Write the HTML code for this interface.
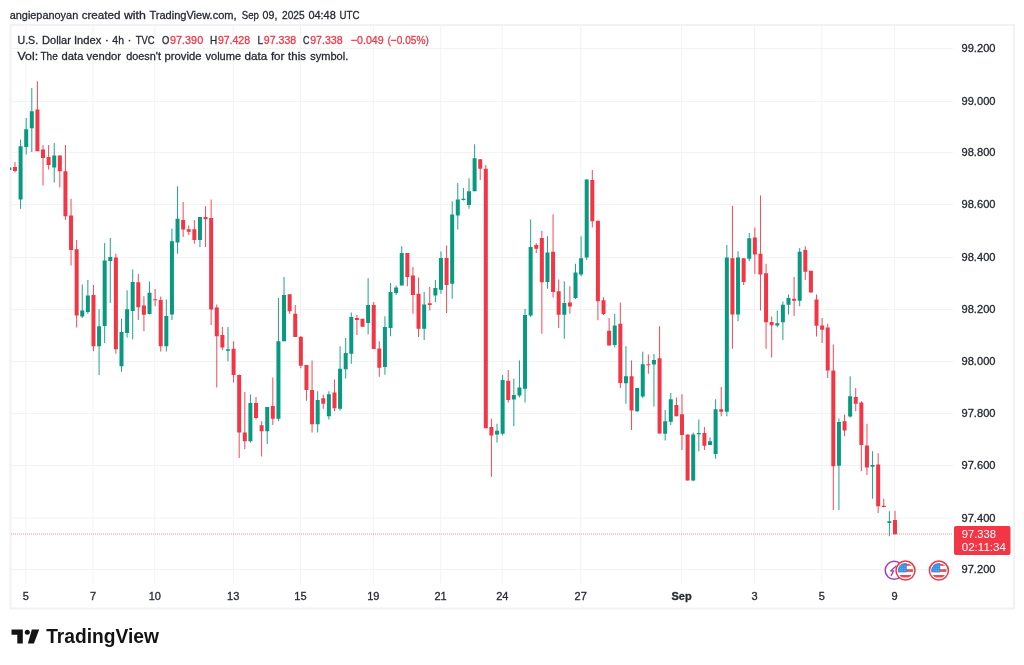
<!DOCTYPE html>
<html><head><meta charset="utf-8">
<style>
html,body{margin:0;padding:0;background:#fff;}
body{width:1024px;height:665px;position:relative;overflow:hidden;font-family:"Liberation Sans",sans-serif;}
svg{position:absolute;left:0;top:0;filter:blur(0.35px);}
text{stroke-width:0.3px;}
.s{stroke:#262a33;}
</style></head><body>
<svg width="1024" height="665" viewBox="0 0 1024 665" font-family="Liberation Sans, sans-serif">
<rect x="0" y="0" width="1024" height="665" fill="#ffffff"/>
<rect x="10.5" y="25" width="1003.5" height="583.5" fill="none" stroke="#F2F2F4" stroke-width="2"/>
<clipPath id="pane"><rect x="10" y="25" width="943" height="558"/></clipPath><g clip-path="url(#pane)"><line x1="11" y1="48.5" x2="953" y2="48.5" stroke="#F2F3F4" stroke-width="1"/>
<line x1="11" y1="101.5" x2="953" y2="101.5" stroke="#F2F3F4" stroke-width="1"/>
<line x1="11" y1="152.5" x2="953" y2="152.5" stroke="#F2F3F4" stroke-width="1"/>
<line x1="11" y1="204.5" x2="953" y2="204.5" stroke="#F2F3F4" stroke-width="1"/>
<line x1="11" y1="257.5" x2="953" y2="257.5" stroke="#F2F3F4" stroke-width="1"/>
<line x1="11" y1="309.5" x2="953" y2="309.5" stroke="#F2F3F4" stroke-width="1"/>
<line x1="11" y1="361.5" x2="953" y2="361.5" stroke="#F2F3F4" stroke-width="1"/>
<line x1="11" y1="413.5" x2="953" y2="413.5" stroke="#F2F3F4" stroke-width="1"/>
<line x1="11" y1="465.5" x2="953" y2="465.5" stroke="#F2F3F4" stroke-width="1"/>
<line x1="11" y1="518" x2="953" y2="518" stroke="#F2F3F4" stroke-width="1"/>
<line x1="11" y1="569.5" x2="953" y2="569.5" stroke="#F2F3F4" stroke-width="1"/>
<line x1="25.84" y1="25" x2="25.84" y2="583" stroke="#F2F3F4" stroke-width="1"/>
<line x1="93.1" y1="25" x2="93.1" y2="583" stroke="#F2F3F4" stroke-width="1"/>
<line x1="154.76" y1="25" x2="154.76" y2="583" stroke="#F2F3F4" stroke-width="1"/>
<line x1="233.23" y1="25" x2="233.23" y2="583" stroke="#F2F3F4" stroke-width="1"/>
<line x1="300.49" y1="25" x2="300.49" y2="583" stroke="#F2F3F4" stroke-width="1"/>
<line x1="373.35" y1="25" x2="373.35" y2="583" stroke="#F2F3F4" stroke-width="1"/>
<line x1="440.61" y1="25" x2="440.61" y2="583" stroke="#F2F3F4" stroke-width="1"/>
<line x1="502.26" y1="25" x2="502.26" y2="583" stroke="#F2F3F4" stroke-width="1"/>
<line x1="580.74" y1="25" x2="580.74" y2="583" stroke="#F2F3F4" stroke-width="1"/>
<line x1="681.63" y1="25" x2="681.63" y2="583" stroke="#F2F3F4" stroke-width="1"/>
<line x1="754.49" y1="25" x2="754.49" y2="583" stroke="#F2F3F4" stroke-width="1"/>
<line x1="821.75" y1="25" x2="821.75" y2="583" stroke="#F2F3F4" stroke-width="1"/>
<line x1="894.62" y1="25" x2="894.62" y2="583" stroke="#F2F3F4" stroke-width="1"/>
<rect x="8.88" y="167" width="1" height="3.50" fill="#089981" fill-opacity="0.9"/>
<rect x="7.38" y="167.5" width="4" height="2.50" fill="#089981"/>
<rect x="14.49" y="162" width="1" height="10.50" fill="#F23645" fill-opacity="0.9"/>
<rect x="12.99" y="167" width="4" height="4.00" fill="#F23645"/>
<rect x="20.09" y="139.5" width="1" height="69.25" fill="#089981" fill-opacity="0.9"/>
<rect x="18.59" y="146.25" width="4" height="53.25" fill="#089981"/>
<rect x="25.70" y="118" width="1" height="36.50" fill="#089981" fill-opacity="0.9"/>
<rect x="24.20" y="129.25" width="4" height="17.75" fill="#089981"/>
<rect x="31.30" y="88" width="1" height="64.00" fill="#089981" fill-opacity="0.9"/>
<rect x="29.80" y="111.25" width="4" height="17.00" fill="#089981"/>
<rect x="36.91" y="81.25" width="1" height="70.00" fill="#F23645" fill-opacity="0.9"/>
<rect x="35.41" y="109.5" width="4" height="41.75" fill="#F23645"/>
<rect x="42.52" y="145" width="1" height="40.50" fill="#F23645" fill-opacity="0.9"/>
<rect x="41.02" y="149.5" width="4" height="8.50" fill="#F23645"/>
<rect x="48.12" y="145" width="1" height="24.50" fill="#F23645" fill-opacity="0.9"/>
<rect x="46.62" y="157" width="4" height="8.00" fill="#F23645"/>
<rect x="53.73" y="143" width="1" height="39.50" fill="#089981" fill-opacity="0.9"/>
<rect x="52.23" y="155.5" width="4" height="12.00" fill="#089981"/>
<rect x="59.33" y="155.5" width="1" height="32.00" fill="#F23645" fill-opacity="0.9"/>
<rect x="57.83" y="155.5" width="4" height="15.75" fill="#F23645"/>
<rect x="64.94" y="145" width="1" height="75.00" fill="#F23645" fill-opacity="0.9"/>
<rect x="63.44" y="171.25" width="4" height="45.00" fill="#F23645"/>
<rect x="70.54" y="198.75" width="1" height="66.75" fill="#F23645" fill-opacity="0.9"/>
<rect x="69.04" y="215.5" width="4" height="34.50" fill="#F23645"/>
<rect x="76.15" y="240" width="1" height="87.50" fill="#F23645" fill-opacity="0.9"/>
<rect x="74.65" y="249.25" width="4" height="66.25" fill="#F23645"/>
<rect x="81.75" y="284.5" width="1" height="33.50" fill="#089981" fill-opacity="0.9"/>
<rect x="80.25" y="310.5" width="4" height="6.00" fill="#089981"/>
<rect x="87.36" y="280" width="1" height="33.75" fill="#089981" fill-opacity="0.9"/>
<rect x="85.86" y="295.5" width="4" height="16.50" fill="#089981"/>
<rect x="92.96" y="285" width="1" height="66.25" fill="#F23645" fill-opacity="0.9"/>
<rect x="91.46" y="295" width="4" height="51.25" fill="#F23645"/>
<rect x="98.57" y="309.25" width="1" height="65.75" fill="#089981" fill-opacity="0.9"/>
<rect x="97.07" y="326.25" width="4" height="20.00" fill="#089981"/>
<rect x="104.17" y="243" width="1" height="100.00" fill="#089981" fill-opacity="0.9"/>
<rect x="102.67" y="260.5" width="4" height="65.50" fill="#089981"/>
<rect x="109.78" y="238" width="1" height="65.00" fill="#089981" fill-opacity="0.9"/>
<rect x="108.28" y="257" width="4" height="4.00" fill="#089981"/>
<rect x="115.38" y="253.75" width="1" height="100.00" fill="#F23645" fill-opacity="0.9"/>
<rect x="113.88" y="257.5" width="4" height="91.75" fill="#F23645"/>
<rect x="120.99" y="318.75" width="1" height="53.00" fill="#089981" fill-opacity="0.9"/>
<rect x="119.49" y="332" width="4" height="34.25" fill="#089981"/>
<rect x="126.59" y="290.25" width="1" height="47.25" fill="#089981" fill-opacity="0.9"/>
<rect x="125.09" y="309.25" width="4" height="23.75" fill="#089981"/>
<rect x="132.19" y="269.5" width="1" height="70.00" fill="#089981" fill-opacity="0.9"/>
<rect x="130.69" y="282" width="4" height="29.00" fill="#089981"/>
<rect x="137.80" y="274" width="1" height="46.00" fill="#F23645" fill-opacity="0.9"/>
<rect x="136.30" y="282.25" width="4" height="25.00" fill="#F23645"/>
<rect x="143.41" y="296.25" width="1" height="35.00" fill="#F23645" fill-opacity="0.9"/>
<rect x="141.91" y="305.5" width="4" height="9.25" fill="#F23645"/>
<rect x="149.01" y="281.5" width="1" height="33.00" fill="#089981" fill-opacity="0.9"/>
<rect x="147.51" y="292.75" width="4" height="21.25" fill="#089981"/>
<rect x="154.62" y="289" width="1" height="17.25" fill="#F23645" fill-opacity="0.9"/>
<rect x="153.12" y="299.25" width="4" height="1.00" fill="#F23645"/>
<rect x="160.22" y="296.5" width="1" height="55.00" fill="#F23645" fill-opacity="0.9"/>
<rect x="158.72" y="300" width="4" height="46.25" fill="#F23645"/>
<rect x="165.82" y="299.5" width="1" height="52.00" fill="#089981" fill-opacity="0.9"/>
<rect x="164.32" y="316" width="4" height="30.25" fill="#089981"/>
<rect x="171.43" y="228.75" width="1" height="91.25" fill="#089981" fill-opacity="0.9"/>
<rect x="169.93" y="241.25" width="4" height="73.25" fill="#089981"/>
<rect x="177.03" y="186.25" width="1" height="67.50" fill="#089981" fill-opacity="0.9"/>
<rect x="175.53" y="218.75" width="4" height="23.75" fill="#089981"/>
<rect x="182.64" y="202" width="1" height="35.00" fill="#F23645" fill-opacity="0.9"/>
<rect x="181.14" y="220" width="4" height="9.50" fill="#F23645"/>
<rect x="188.25" y="225.5" width="1" height="9.50" fill="#F23645" fill-opacity="0.9"/>
<rect x="186.75" y="229.25" width="4" height="2.50" fill="#F23645"/>
<rect x="193.85" y="220" width="1" height="23.75" fill="#F23645" fill-opacity="0.9"/>
<rect x="192.35" y="229.25" width="4" height="10.75" fill="#F23645"/>
<rect x="199.46" y="217" width="1" height="30.00" fill="#089981" fill-opacity="0.9"/>
<rect x="197.96" y="217" width="4" height="23.00" fill="#089981"/>
<rect x="205.06" y="206.25" width="1" height="40.75" fill="#F23645" fill-opacity="0.9"/>
<rect x="203.56" y="217" width="4" height="2.25" fill="#F23645"/>
<rect x="210.66" y="199.5" width="1" height="125.50" fill="#F23645" fill-opacity="0.9"/>
<rect x="209.16" y="218" width="4" height="91.50" fill="#F23645"/>
<rect x="216.27" y="304.5" width="1" height="83.00" fill="#F23645" fill-opacity="0.9"/>
<rect x="214.77" y="307.5" width="4" height="28.75" fill="#F23645"/>
<rect x="221.88" y="327" width="1" height="23.00" fill="#F23645" fill-opacity="0.9"/>
<rect x="220.38" y="335" width="4" height="12.50" fill="#F23645"/>
<rect x="227.48" y="327" width="1" height="34.25" fill="#089981" fill-opacity="0.9"/>
<rect x="225.98" y="349.25" width="4" height="1.50" fill="#089981"/>
<rect x="233.09" y="341.25" width="1" height="41.25" fill="#F23645" fill-opacity="0.9"/>
<rect x="231.59" y="348.75" width="4" height="26.25" fill="#F23645"/>
<rect x="238.69" y="374.5" width="1" height="83.50" fill="#F23645" fill-opacity="0.9"/>
<rect x="237.19" y="375" width="4" height="57.50" fill="#F23645"/>
<rect x="244.30" y="392" width="1" height="57.25" fill="#F23645" fill-opacity="0.9"/>
<rect x="242.80" y="432.5" width="4" height="8.75" fill="#F23645"/>
<rect x="249.90" y="394.5" width="1" height="48.00" fill="#089981" fill-opacity="0.9"/>
<rect x="248.40" y="403" width="4" height="38.25" fill="#089981"/>
<rect x="255.50" y="397" width="1" height="22.50" fill="#F23645" fill-opacity="0.9"/>
<rect x="254.00" y="403" width="4" height="15.00" fill="#F23645"/>
<rect x="261.11" y="421.25" width="1" height="35.25" fill="#F23645" fill-opacity="0.9"/>
<rect x="259.61" y="425.25" width="4" height="6.00" fill="#F23645"/>
<rect x="266.72" y="407" width="1" height="37.00" fill="#089981" fill-opacity="0.9"/>
<rect x="265.22" y="407" width="4" height="24.25" fill="#089981"/>
<rect x="272.32" y="377.5" width="1" height="47.50" fill="#F23645" fill-opacity="0.9"/>
<rect x="270.82" y="406" width="4" height="12.75" fill="#F23645"/>
<rect x="277.93" y="298" width="1" height="123.00" fill="#089981" fill-opacity="0.9"/>
<rect x="276.43" y="341.25" width="4" height="77.50" fill="#089981"/>
<rect x="283.53" y="277" width="1" height="64.25" fill="#089981" fill-opacity="0.9"/>
<rect x="282.03" y="295" width="4" height="46.25" fill="#089981"/>
<rect x="289.13" y="294.25" width="1" height="19.50" fill="#F23645" fill-opacity="0.9"/>
<rect x="287.63" y="294.25" width="4" height="17.00" fill="#F23645"/>
<rect x="294.74" y="305" width="1" height="32.00" fill="#F23645" fill-opacity="0.9"/>
<rect x="293.24" y="313.75" width="4" height="23.25" fill="#F23645"/>
<rect x="300.35" y="336.25" width="1" height="32.00" fill="#F23645" fill-opacity="0.9"/>
<rect x="298.85" y="336.75" width="4" height="29.00" fill="#F23645"/>
<rect x="305.95" y="365" width="1" height="35.75" fill="#F23645" fill-opacity="0.9"/>
<rect x="304.45" y="365" width="4" height="25.00" fill="#F23645"/>
<rect x="311.56" y="360.5" width="1" height="72.00" fill="#F23645" fill-opacity="0.9"/>
<rect x="310.06" y="390" width="4" height="34.25" fill="#F23645"/>
<rect x="317.16" y="391.25" width="1" height="41.25" fill="#089981" fill-opacity="0.9"/>
<rect x="315.66" y="400" width="4" height="24.25" fill="#089981"/>
<rect x="322.76" y="394.5" width="1" height="14.25" fill="#F23645" fill-opacity="0.9"/>
<rect x="321.26" y="398.25" width="4" height="5.50" fill="#F23645"/>
<rect x="328.37" y="391.25" width="1" height="28.25" fill="#089981" fill-opacity="0.9"/>
<rect x="326.87" y="394.25" width="4" height="22.00" fill="#089981"/>
<rect x="333.98" y="379.5" width="1" height="31.75" fill="#F23645" fill-opacity="0.9"/>
<rect x="332.48" y="392.5" width="4" height="15.75" fill="#F23645"/>
<rect x="339.58" y="346.25" width="1" height="64.25" fill="#089981" fill-opacity="0.9"/>
<rect x="338.08" y="368.75" width="4" height="40.00" fill="#089981"/>
<rect x="345.19" y="338" width="1" height="40.50" fill="#089981" fill-opacity="0.9"/>
<rect x="343.69" y="353" width="4" height="16.25" fill="#089981"/>
<rect x="350.79" y="312.5" width="1" height="51.25" fill="#089981" fill-opacity="0.9"/>
<rect x="349.29" y="317" width="4" height="36.75" fill="#089981"/>
<rect x="356.40" y="315" width="1" height="20.00" fill="#F23645" fill-opacity="0.9"/>
<rect x="354.90" y="318" width="4" height="2.00" fill="#F23645"/>
<rect x="362.00" y="318.75" width="1" height="8.00" fill="#F23645" fill-opacity="0.9"/>
<rect x="360.50" y="318.75" width="4" height="8.00" fill="#F23645"/>
<rect x="367.61" y="278.25" width="1" height="56.25" fill="#089981" fill-opacity="0.9"/>
<rect x="366.11" y="305" width="4" height="18.00" fill="#089981"/>
<rect x="373.21" y="302" width="1" height="47.00" fill="#F23645" fill-opacity="0.9"/>
<rect x="371.71" y="305" width="4" height="44.00" fill="#F23645"/>
<rect x="378.81" y="341.25" width="1" height="35.50" fill="#F23645" fill-opacity="0.9"/>
<rect x="377.31" y="348.5" width="4" height="19.25" fill="#F23645"/>
<rect x="384.42" y="316.25" width="1" height="58.50" fill="#089981" fill-opacity="0.9"/>
<rect x="382.92" y="327" width="4" height="40.00" fill="#089981"/>
<rect x="390.03" y="283" width="1" height="53.25" fill="#089981" fill-opacity="0.9"/>
<rect x="388.53" y="292" width="4" height="36.00" fill="#089981"/>
<rect x="395.63" y="285.5" width="1" height="9.50" fill="#089981" fill-opacity="0.9"/>
<rect x="394.13" y="287.5" width="4" height="5.50" fill="#089981"/>
<rect x="401.24" y="246.25" width="1" height="39.25" fill="#089981" fill-opacity="0.9"/>
<rect x="399.74" y="253" width="4" height="32.50" fill="#089981"/>
<rect x="406.84" y="253" width="1" height="33.25" fill="#F23645" fill-opacity="0.9"/>
<rect x="405.34" y="253" width="4" height="24.00" fill="#F23645"/>
<rect x="412.44" y="267" width="1" height="46.75" fill="#F23645" fill-opacity="0.9"/>
<rect x="410.94" y="275.5" width="4" height="19.50" fill="#F23645"/>
<rect x="418.05" y="277.5" width="1" height="59.50" fill="#F23645" fill-opacity="0.9"/>
<rect x="416.55" y="293.75" width="4" height="35.00" fill="#F23645"/>
<rect x="423.66" y="292" width="1" height="48.00" fill="#089981" fill-opacity="0.9"/>
<rect x="422.16" y="304.5" width="4" height="24.25" fill="#089981"/>
<rect x="429.26" y="287" width="1" height="23.50" fill="#F23645" fill-opacity="0.9"/>
<rect x="427.76" y="303.25" width="4" height="1.75" fill="#F23645"/>
<rect x="434.87" y="280" width="1" height="22.00" fill="#089981" fill-opacity="0.9"/>
<rect x="433.37" y="288" width="4" height="7.50" fill="#089981"/>
<rect x="440.47" y="251.5" width="1" height="42.25" fill="#089981" fill-opacity="0.9"/>
<rect x="438.97" y="258" width="4" height="31.75" fill="#089981"/>
<rect x="446.08" y="245.5" width="1" height="67.50" fill="#F23645" fill-opacity="0.9"/>
<rect x="444.58" y="258" width="4" height="27.00" fill="#F23645"/>
<rect x="451.68" y="201.25" width="1" height="97.50" fill="#089981" fill-opacity="0.9"/>
<rect x="450.18" y="214.5" width="4" height="69.25" fill="#089981"/>
<rect x="457.29" y="183" width="1" height="46.50" fill="#089981" fill-opacity="0.9"/>
<rect x="455.79" y="199.5" width="4" height="16.00" fill="#089981"/>
<rect x="462.89" y="188" width="1" height="12.50" fill="#089981" fill-opacity="0.9"/>
<rect x="461.39" y="198.75" width="4" height="1.25" fill="#089981"/>
<rect x="468.50" y="178.25" width="1" height="30.50" fill="#089981" fill-opacity="0.9"/>
<rect x="467.00" y="191.25" width="4" height="13.75" fill="#089981"/>
<rect x="474.10" y="144.25" width="1" height="47.00" fill="#089981" fill-opacity="0.9"/>
<rect x="472.60" y="158.25" width="4" height="33.00" fill="#089981"/>
<rect x="479.71" y="159.25" width="1" height="20.75" fill="#F23645" fill-opacity="0.9"/>
<rect x="478.21" y="159.25" width="4" height="9.50" fill="#F23645"/>
<rect x="485.31" y="165" width="1" height="263.25" fill="#F23645" fill-opacity="0.9"/>
<rect x="483.81" y="168.75" width="4" height="259.50" fill="#F23645"/>
<rect x="490.92" y="418.75" width="1" height="58.00" fill="#F23645" fill-opacity="0.9"/>
<rect x="489.42" y="427" width="4" height="8.50" fill="#F23645"/>
<rect x="496.52" y="423.75" width="1" height="18.75" fill="#089981" fill-opacity="0.9"/>
<rect x="495.02" y="430.75" width="4" height="3.75" fill="#089981"/>
<rect x="502.12" y="375" width="1" height="60.50" fill="#089981" fill-opacity="0.9"/>
<rect x="500.62" y="380" width="4" height="53.75" fill="#089981"/>
<rect x="507.73" y="370" width="1" height="32.50" fill="#F23645" fill-opacity="0.9"/>
<rect x="506.23" y="380.75" width="4" height="19.25" fill="#F23645"/>
<rect x="513.34" y="378.75" width="1" height="47.50" fill="#089981" fill-opacity="0.9"/>
<rect x="511.84" y="395" width="4" height="4.50" fill="#089981"/>
<rect x="518.94" y="360.5" width="1" height="37.00" fill="#089981" fill-opacity="0.9"/>
<rect x="517.44" y="387.5" width="4" height="8.00" fill="#089981"/>
<rect x="524.55" y="308.75" width="1" height="93.75" fill="#089981" fill-opacity="0.9"/>
<rect x="523.05" y="315" width="4" height="73.75" fill="#089981"/>
<rect x="530.15" y="219.5" width="1" height="97.50" fill="#089981" fill-opacity="0.9"/>
<rect x="528.65" y="247" width="4" height="68.50" fill="#089981"/>
<rect x="535.76" y="243.25" width="1" height="9.75" fill="#F23645" fill-opacity="0.9"/>
<rect x="534.26" y="245" width="4" height="3.75" fill="#F23645"/>
<rect x="541.36" y="230.75" width="1" height="103.00" fill="#F23645" fill-opacity="0.9"/>
<rect x="539.86" y="238" width="4" height="44.25" fill="#F23645"/>
<rect x="546.97" y="236.25" width="1" height="52.50" fill="#089981" fill-opacity="0.9"/>
<rect x="545.47" y="252.5" width="4" height="29.50" fill="#089981"/>
<rect x="552.57" y="214.25" width="1" height="83.25" fill="#F23645" fill-opacity="0.9"/>
<rect x="551.07" y="251.75" width="4" height="40.25" fill="#F23645"/>
<rect x="558.18" y="279.5" width="1" height="48.50" fill="#F23645" fill-opacity="0.9"/>
<rect x="556.68" y="291.25" width="4" height="23.50" fill="#F23645"/>
<rect x="563.78" y="281.25" width="1" height="57.50" fill="#089981" fill-opacity="0.9"/>
<rect x="562.28" y="303" width="4" height="11.75" fill="#089981"/>
<rect x="569.39" y="286.25" width="1" height="27.50" fill="#F23645" fill-opacity="0.9"/>
<rect x="567.89" y="302.5" width="4" height="4.00" fill="#F23645"/>
<rect x="574.99" y="263.75" width="1" height="35.25" fill="#089981" fill-opacity="0.9"/>
<rect x="573.49" y="272.5" width="4" height="25.50" fill="#089981"/>
<rect x="580.60" y="236.25" width="1" height="40.00" fill="#089981" fill-opacity="0.9"/>
<rect x="579.10" y="258.25" width="4" height="16.25" fill="#089981"/>
<rect x="586.20" y="179.5" width="1" height="80.50" fill="#089981" fill-opacity="0.9"/>
<rect x="584.70" y="179.5" width="4" height="78.00" fill="#089981"/>
<rect x="591.81" y="170" width="1" height="57.50" fill="#F23645" fill-opacity="0.9"/>
<rect x="590.31" y="180" width="4" height="41.25" fill="#F23645"/>
<rect x="597.41" y="220.75" width="1" height="99.50" fill="#F23645" fill-opacity="0.9"/>
<rect x="595.91" y="220.75" width="4" height="80.50" fill="#F23645"/>
<rect x="603.02" y="297.25" width="1" height="17.75" fill="#F23645" fill-opacity="0.9"/>
<rect x="601.52" y="300.25" width="4" height="13.75" fill="#F23645"/>
<rect x="608.62" y="318" width="1" height="27.50" fill="#F23645" fill-opacity="0.9"/>
<rect x="607.12" y="330.75" width="4" height="14.75" fill="#F23645"/>
<rect x="614.23" y="313.75" width="1" height="33.75" fill="#089981" fill-opacity="0.9"/>
<rect x="612.73" y="325.5" width="4" height="19.50" fill="#089981"/>
<rect x="619.83" y="302.5" width="1" height="85.50" fill="#F23645" fill-opacity="0.9"/>
<rect x="618.33" y="323.75" width="4" height="59.25" fill="#F23645"/>
<rect x="625.44" y="346.25" width="1" height="57.50" fill="#089981" fill-opacity="0.9"/>
<rect x="623.94" y="376.25" width="4" height="7.00" fill="#089981"/>
<rect x="631.04" y="360.5" width="1" height="69.50" fill="#F23645" fill-opacity="0.9"/>
<rect x="629.54" y="376.25" width="4" height="34.25" fill="#F23645"/>
<rect x="636.65" y="388" width="1" height="24.00" fill="#089981" fill-opacity="0.9"/>
<rect x="635.15" y="388" width="4" height="23.25" fill="#089981"/>
<rect x="642.25" y="351.75" width="1" height="46.25" fill="#089981" fill-opacity="0.9"/>
<rect x="640.75" y="364.25" width="4" height="32.25" fill="#089981"/>
<rect x="647.86" y="354.5" width="1" height="19.25" fill="#F23645" fill-opacity="0.9"/>
<rect x="646.36" y="364.25" width="4" height="1.00" fill="#F23645"/>
<rect x="653.46" y="354" width="1" height="52.50" fill="#089981" fill-opacity="0.9"/>
<rect x="651.96" y="360" width="4" height="4.50" fill="#089981"/>
<rect x="659.07" y="326.25" width="1" height="107.25" fill="#F23645" fill-opacity="0.9"/>
<rect x="657.57" y="358.25" width="4" height="75.25" fill="#F23645"/>
<rect x="664.67" y="410" width="1" height="30.50" fill="#089981" fill-opacity="0.9"/>
<rect x="663.17" y="421.25" width="4" height="12.50" fill="#089981"/>
<rect x="670.28" y="393" width="1" height="32.00" fill="#089981" fill-opacity="0.9"/>
<rect x="668.78" y="399.25" width="4" height="22.50" fill="#089981"/>
<rect x="675.88" y="397.5" width="1" height="18.75" fill="#F23645" fill-opacity="0.9"/>
<rect x="674.38" y="405" width="4" height="11.25" fill="#F23645"/>
<rect x="681.49" y="394.25" width="1" height="55.75" fill="#F23645" fill-opacity="0.9"/>
<rect x="679.99" y="414.25" width="4" height="20.75" fill="#F23645"/>
<rect x="687.09" y="434.5" width="1" height="46.00" fill="#F23645" fill-opacity="0.9"/>
<rect x="685.59" y="434.5" width="4" height="46.00" fill="#F23645"/>
<rect x="692.70" y="432.5" width="1" height="48.75" fill="#089981" fill-opacity="0.9"/>
<rect x="691.20" y="434.5" width="4" height="46.00" fill="#089981"/>
<rect x="698.30" y="419.5" width="1" height="31.75" fill="#089981" fill-opacity="0.9"/>
<rect x="696.80" y="433" width="4" height="1.25" fill="#089981"/>
<rect x="703.91" y="427" width="1" height="23.00" fill="#F23645" fill-opacity="0.9"/>
<rect x="702.41" y="433" width="4" height="12.75" fill="#F23645"/>
<rect x="709.51" y="437.5" width="1" height="7.50" fill="#089981" fill-opacity="0.9"/>
<rect x="708.01" y="441.25" width="4" height="3.75" fill="#089981"/>
<rect x="715.12" y="399.25" width="1" height="59.50" fill="#089981" fill-opacity="0.9"/>
<rect x="713.62" y="409.25" width="4" height="44.75" fill="#089981"/>
<rect x="720.72" y="387" width="1" height="29.25" fill="#F23645" fill-opacity="0.9"/>
<rect x="719.22" y="409.25" width="4" height="2.50" fill="#F23645"/>
<rect x="726.33" y="245" width="1" height="171.25" fill="#089981" fill-opacity="0.9"/>
<rect x="724.83" y="257.5" width="4" height="154.25" fill="#089981"/>
<rect x="731.93" y="205.75" width="1" height="143.00" fill="#F23645" fill-opacity="0.9"/>
<rect x="730.43" y="258.25" width="4" height="56.25" fill="#F23645"/>
<rect x="737.54" y="251.25" width="1" height="70.00" fill="#089981" fill-opacity="0.9"/>
<rect x="736.04" y="257.5" width="4" height="57.00" fill="#089981"/>
<rect x="743.14" y="258.25" width="1" height="26.75" fill="#F23645" fill-opacity="0.9"/>
<rect x="741.64" y="258.25" width="4" height="23.75" fill="#F23645"/>
<rect x="748.75" y="233" width="1" height="28.25" fill="#089981" fill-opacity="0.9"/>
<rect x="747.25" y="238.25" width="4" height="20.50" fill="#089981"/>
<rect x="754.35" y="227.5" width="1" height="46.25" fill="#F23645" fill-opacity="0.9"/>
<rect x="752.85" y="237.5" width="4" height="17.00" fill="#F23645"/>
<rect x="759.96" y="195.5" width="1" height="115.00" fill="#F23645" fill-opacity="0.9"/>
<rect x="758.46" y="253.75" width="4" height="20.75" fill="#F23645"/>
<rect x="765.56" y="263.75" width="1" height="85.00" fill="#F23645" fill-opacity="0.9"/>
<rect x="764.06" y="273.25" width="4" height="49.00" fill="#F23645"/>
<rect x="771.17" y="316.5" width="1" height="41.00" fill="#F23645" fill-opacity="0.9"/>
<rect x="769.67" y="322" width="4" height="3.25" fill="#F23645"/>
<rect x="776.77" y="310.5" width="1" height="16.75" fill="#089981" fill-opacity="0.9"/>
<rect x="775.27" y="323.25" width="4" height="2.25" fill="#089981"/>
<rect x="782.38" y="301.5" width="1" height="38.50" fill="#089981" fill-opacity="0.9"/>
<rect x="780.88" y="304.75" width="4" height="17.50" fill="#089981"/>
<rect x="787.98" y="294.5" width="1" height="20.00" fill="#089981" fill-opacity="0.9"/>
<rect x="786.48" y="298" width="4" height="6.75" fill="#089981"/>
<rect x="793.59" y="277" width="1" height="39.00" fill="#F23645" fill-opacity="0.9"/>
<rect x="792.09" y="298.75" width="4" height="2.00" fill="#F23645"/>
<rect x="799.19" y="248" width="1" height="58.25" fill="#089981" fill-opacity="0.9"/>
<rect x="797.69" y="251.75" width="4" height="49.00" fill="#089981"/>
<rect x="804.80" y="246.25" width="1" height="33.75" fill="#F23645" fill-opacity="0.9"/>
<rect x="803.30" y="250" width="4" height="21.75" fill="#F23645"/>
<rect x="810.40" y="270.75" width="1" height="21.75" fill="#F23645" fill-opacity="0.9"/>
<rect x="808.90" y="270.75" width="4" height="21.75" fill="#F23645"/>
<rect x="816.01" y="294.5" width="1" height="42.00" fill="#F23645" fill-opacity="0.9"/>
<rect x="814.51" y="299.5" width="4" height="26.25" fill="#F23645"/>
<rect x="821.61" y="318" width="1" height="25.00" fill="#F23645" fill-opacity="0.9"/>
<rect x="820.11" y="325.5" width="4" height="4.25" fill="#F23645"/>
<rect x="827.22" y="323.75" width="1" height="54.25" fill="#F23645" fill-opacity="0.9"/>
<rect x="825.72" y="327.5" width="4" height="43.00" fill="#F23645"/>
<rect x="832.82" y="344.5" width="1" height="165.50" fill="#F23645" fill-opacity="0.9"/>
<rect x="831.32" y="370.5" width="4" height="95.75" fill="#F23645"/>
<rect x="838.43" y="418.5" width="1" height="91.50" fill="#089981" fill-opacity="0.9"/>
<rect x="836.93" y="422" width="4" height="43.75" fill="#089981"/>
<rect x="844.03" y="414.5" width="1" height="21.75" fill="#F23645" fill-opacity="0.9"/>
<rect x="842.53" y="421.25" width="4" height="9.25" fill="#F23645"/>
<rect x="849.64" y="376.25" width="1" height="41.25" fill="#089981" fill-opacity="0.9"/>
<rect x="848.14" y="396.25" width="4" height="20.25" fill="#089981"/>
<rect x="855.24" y="388" width="1" height="23.25" fill="#F23645" fill-opacity="0.9"/>
<rect x="853.74" y="397" width="4" height="6.75" fill="#F23645"/>
<rect x="860.85" y="401.25" width="1" height="70.00" fill="#F23645" fill-opacity="0.9"/>
<rect x="859.35" y="402.5" width="4" height="42.50" fill="#F23645"/>
<rect x="866.45" y="423.75" width="1" height="51.25" fill="#F23645" fill-opacity="0.9"/>
<rect x="864.95" y="445.5" width="4" height="22.00" fill="#F23645"/>
<rect x="872.06" y="451.25" width="1" height="47.50" fill="#089981" fill-opacity="0.9"/>
<rect x="870.56" y="465" width="4" height="1.75" fill="#089981"/>
<rect x="877.66" y="453.25" width="1" height="59.75" fill="#F23645" fill-opacity="0.9"/>
<rect x="876.16" y="464.5" width="4" height="41.75" fill="#F23645"/>
<rect x="883.27" y="498.75" width="1" height="8.75" fill="#F23645" fill-opacity="0.9"/>
<rect x="881.77" y="505.75" width="4" height="1.25" fill="#F23645"/>
<rect x="888.87" y="511.25" width="1" height="25.00" fill="#089981" fill-opacity="0.9"/>
<rect x="887.37" y="521.25" width="4" height="1.75" fill="#089981"/>
<rect x="894.48" y="510.75" width="1" height="23.50" fill="#F23645" fill-opacity="0.9"/>
<rect x="892.98" y="520" width="4" height="14.25" fill="#F23645"/></g>
<line x1="11" y1="534" x2="953" y2="534" stroke="#F23645" stroke-opacity="0.55" stroke-width="1" stroke-dasharray="1 1"/>
<circle cx="106.9" cy="40.6" r="0.85" fill="#262a33"/><circle cx="129.5" cy="40.6" r="0.85" fill="#262a33"/><text x="9.70" y="19" font-size="11.5" fill="#262a33" stroke="#262a33" stroke-width="0.2" textLength="68.51" lengthAdjust="spacingAndGlyphs">angiepanoyan</text>
<text x="81.70" y="19" font-size="11.5" fill="#262a33" stroke="#262a33" stroke-width="0.2" textLength="38.71" lengthAdjust="spacingAndGlyphs">created</text>
<text x="123.95" y="19" font-size="11.5" fill="#262a33" stroke="#262a33" stroke-width="0.2" textLength="21.95" lengthAdjust="spacingAndGlyphs">with</text>
<text x="149.40" y="19" font-size="11.5" fill="#262a33" stroke="#262a33" stroke-width="0.2" textLength="87.22" lengthAdjust="spacingAndGlyphs">TradingView.com,</text>
<text x="241.80" y="19" font-size="11.5" fill="#262a33" stroke="#262a33" stroke-width="0.2" textLength="17.11" lengthAdjust="spacingAndGlyphs">Sep</text>
<text x="262.60" y="19" font-size="11.5" fill="#262a33" stroke="#262a33" stroke-width="0.2" textLength="14.79" lengthAdjust="spacingAndGlyphs">09,</text>
<text x="282.00" y="19" font-size="11.5" fill="#262a33" stroke="#262a33" stroke-width="0.2" textLength="22.69" lengthAdjust="spacingAndGlyphs">2025</text>
<text x="308.40" y="19" font-size="11.5" fill="#262a33" stroke="#262a33" stroke-width="0.2" textLength="27.38" lengthAdjust="spacingAndGlyphs">04:48</text>
<text x="339.60" y="19" font-size="11.5" fill="#262a33" stroke="#262a33" stroke-width="0.2" textLength="19.99" lengthAdjust="spacingAndGlyphs">UTC</text>
<text x="17.50" y="44" font-size="11.5" fill="#262a33" stroke="#262a33" stroke-width="0.2" textLength="20.61" lengthAdjust="spacingAndGlyphs">U.S.</text>
<text x="42.00" y="44" font-size="11.5" fill="#262a33" stroke="#262a33" stroke-width="0.2" textLength="28.89" lengthAdjust="spacingAndGlyphs">Dollar</text>
<text x="74.00" y="44" font-size="11.5" fill="#262a33" stroke="#262a33" stroke-width="0.2" textLength="27.38" lengthAdjust="spacingAndGlyphs">Index</text>
<text x="112.30" y="44" font-size="11.5" fill="#262a33" stroke="#262a33" stroke-width="0.2" textLength="11.69" lengthAdjust="spacingAndGlyphs">4h</text>
<text x="135.80" y="44" font-size="11.5" fill="#262a33" stroke="#262a33" stroke-width="0.2" textLength="18.70" lengthAdjust="spacingAndGlyphs">TVC</text>
<text x="162.10" y="44" font-size="11.5" fill="#262a33" stroke="#262a33" stroke-width="0.2" textLength="7.30" lengthAdjust="spacingAndGlyphs">O</text>
<text x="170.00" y="44" font-size="11.5" fill="#F23645" stroke="#F23645" stroke-width="0.2" textLength="33.18" lengthAdjust="spacingAndGlyphs">97.390</text>
<text x="210.00" y="44" font-size="11.5" fill="#262a33" stroke="#262a33" stroke-width="0.2" textLength="7.20" lengthAdjust="spacingAndGlyphs">H</text>
<text x="217.90" y="44" font-size="11.5" fill="#F23645" stroke="#F23645" stroke-width="0.2" textLength="32.18" lengthAdjust="spacingAndGlyphs">97.428</text>
<text x="257.60" y="44" font-size="11.5" fill="#262a33" stroke="#262a33" stroke-width="0.2" textLength="5.50" lengthAdjust="spacingAndGlyphs">L</text>
<text x="263.80" y="44" font-size="11.5" fill="#F23645" stroke="#F23645" stroke-width="0.2" textLength="32.38" lengthAdjust="spacingAndGlyphs">97.338</text>
<text x="303.00" y="44" font-size="11.5" fill="#262a33" stroke="#262a33" stroke-width="0.2" textLength="6.40" lengthAdjust="spacingAndGlyphs">C</text>
<text x="310.20" y="44" font-size="11.5" fill="#F23645" stroke="#F23645" stroke-width="0.2" textLength="32.48" lengthAdjust="spacingAndGlyphs">97.338</text>
<text x="350.90" y="44" font-size="11.5" fill="#F23645" stroke="#F23645" stroke-width="0.2" textLength="32.80" lengthAdjust="spacingAndGlyphs">−0.049</text>
<text x="387.40" y="44" font-size="11.5" fill="#F23645" stroke="#F23645" stroke-width="0.2" textLength="41.39" lengthAdjust="spacingAndGlyphs">(−0.05%)</text>
<text x="17.50" y="59.5" font-size="11.5" fill="#262a33" stroke="#262a33" stroke-width="0.2" textLength="20.58" lengthAdjust="spacingAndGlyphs">Vol:</text>
<text x="40.50" y="59.5" font-size="11.5" fill="#262a33" stroke="#262a33" stroke-width="0.2" textLength="17.21" lengthAdjust="spacingAndGlyphs">The</text>
<text x="61.60" y="59.5" font-size="11.5" fill="#262a33" stroke="#262a33" stroke-width="0.2" textLength="21.78" lengthAdjust="spacingAndGlyphs">data</text>
<text x="86.60" y="59.5" font-size="11.5" fill="#262a33" stroke="#262a33" stroke-width="0.2" textLength="34.31" lengthAdjust="spacingAndGlyphs">vendor</text>
<text x="126.20" y="59.5" font-size="11.5" fill="#262a33" stroke="#262a33" stroke-width="0.2" textLength="34.78" lengthAdjust="spacingAndGlyphs">doesn't</text>
<text x="164.50" y="59.5" font-size="11.5" fill="#262a33" stroke="#262a33" stroke-width="0.2" textLength="36.92" lengthAdjust="spacingAndGlyphs">provide</text>
<text x="205.50" y="59.5" font-size="11.5" fill="#262a33" stroke="#262a33" stroke-width="0.2" textLength="35.62" lengthAdjust="spacingAndGlyphs">volume</text>
<text x="244.50" y="59.5" font-size="11.5" fill="#262a33" stroke="#262a33" stroke-width="0.2" textLength="22.68" lengthAdjust="spacingAndGlyphs">data</text>
<text x="270.90" y="59.5" font-size="11.5" fill="#262a33" stroke="#262a33" stroke-width="0.2" textLength="13.52" lengthAdjust="spacingAndGlyphs">for</text>
<text x="288.10" y="59.5" font-size="11.5" fill="#262a33" stroke="#262a33" stroke-width="0.2" textLength="17.80" lengthAdjust="spacingAndGlyphs">this</text>
<text x="310.20" y="59.5" font-size="11.5" fill="#262a33" stroke="#262a33" stroke-width="0.2" textLength="38.12" lengthAdjust="spacingAndGlyphs">symbol.</text>
<text x="961.5" y="52.1" font-size="11" fill="#262a33" stroke="#262a33" textLength="34" lengthAdjust="spacingAndGlyphs">99.200</text>
<text x="961.5" y="105.1" font-size="11" fill="#262a33" stroke="#262a33" textLength="34" lengthAdjust="spacingAndGlyphs">99.000</text>
<text x="961.5" y="156.1" font-size="11" fill="#262a33" stroke="#262a33" textLength="34" lengthAdjust="spacingAndGlyphs">98.800</text>
<text x="961.5" y="208.1" font-size="11" fill="#262a33" stroke="#262a33" textLength="34" lengthAdjust="spacingAndGlyphs">98.600</text>
<text x="961.5" y="261.1" font-size="11" fill="#262a33" stroke="#262a33" textLength="34" lengthAdjust="spacingAndGlyphs">98.400</text>
<text x="961.5" y="313.1" font-size="11" fill="#262a33" stroke="#262a33" textLength="34" lengthAdjust="spacingAndGlyphs">98.200</text>
<text x="961.5" y="365.1" font-size="11" fill="#262a33" stroke="#262a33" textLength="34" lengthAdjust="spacingAndGlyphs">98.000</text>
<text x="961.5" y="417.1" font-size="11" fill="#262a33" stroke="#262a33" textLength="34" lengthAdjust="spacingAndGlyphs">97.800</text>
<text x="961.5" y="469.1" font-size="11" fill="#262a33" stroke="#262a33" textLength="34" lengthAdjust="spacingAndGlyphs">97.600</text>
<text x="961.5" y="521.6" font-size="11" fill="#262a33" stroke="#262a33" textLength="34" lengthAdjust="spacingAndGlyphs">97.400</text>
<text x="961.5" y="573.1" font-size="11" fill="#262a33" stroke="#262a33" textLength="34" lengthAdjust="spacingAndGlyphs">97.200</text>
<text x="25.84" y="600.3" font-size="11" font-weight="normal" fill="#262a33" stroke="#262a33" stroke-width="0.25" text-anchor="middle">5</text>
<text x="93.1" y="600.3" font-size="11" font-weight="normal" fill="#262a33" stroke="#262a33" stroke-width="0.25" text-anchor="middle">7</text>
<text x="154.76" y="600.3" font-size="11" font-weight="normal" fill="#262a33" stroke="#262a33" stroke-width="0.25" text-anchor="middle">10</text>
<text x="233.23" y="600.3" font-size="11" font-weight="normal" fill="#262a33" stroke="#262a33" stroke-width="0.25" text-anchor="middle">13</text>
<text x="300.49" y="600.3" font-size="11" font-weight="normal" fill="#262a33" stroke="#262a33" stroke-width="0.25" text-anchor="middle">15</text>
<text x="373.35" y="600.3" font-size="11" font-weight="normal" fill="#262a33" stroke="#262a33" stroke-width="0.25" text-anchor="middle">19</text>
<text x="440.61" y="600.3" font-size="11" font-weight="normal" fill="#262a33" stroke="#262a33" stroke-width="0.25" text-anchor="middle">21</text>
<text x="502.26" y="600.3" font-size="11" font-weight="normal" fill="#262a33" stroke="#262a33" stroke-width="0.25" text-anchor="middle">24</text>
<text x="580.74" y="600.3" font-size="11" font-weight="normal" fill="#262a33" stroke="#262a33" stroke-width="0.25" text-anchor="middle">27</text>
<text x="681.63" y="600.3" font-size="11" font-weight="bold" fill="#262a33" stroke="#262a33" stroke-width="0.25" text-anchor="middle">Sep</text>
<text x="754.49" y="600.3" font-size="11" font-weight="normal" fill="#262a33" stroke="#262a33" stroke-width="0.25" text-anchor="middle">3</text>
<text x="821.75" y="600.3" font-size="11" font-weight="normal" fill="#262a33" stroke="#262a33" stroke-width="0.25" text-anchor="middle">5</text>
<text x="894.62" y="600.3" font-size="11" font-weight="normal" fill="#262a33" stroke="#262a33" stroke-width="0.25" text-anchor="middle">9</text>
<rect x="954" y="526" width="56.5" height="29" rx="2" fill="#F23645"/>
<text x="961.7" y="537.7" font-size="11" fill="#fff" textLength="34.3" lengthAdjust="spacingAndGlyphs">97.338</text>
<text x="961.7" y="551.3" font-size="11" fill="#fff" textLength="44.3" lengthAdjust="spacingAndGlyphs">02:11:34</text>
<circle cx="894.2" cy="570.3" r="9.0" fill="#fff" stroke="#A33DC0" stroke-width="1.5"/>
<path d="M895.9 566.2 L890.6 570.9 L893.6 570.9 L891.2 575.4" fill="none" stroke="#A33DC0" stroke-width="1.3" stroke-linejoin="round" stroke-linecap="round"/>
<g>
<circle cx="905.5" cy="570.6" r="9.5" fill="#fff" stroke="#F23645" stroke-width="1.5"/>
<clipPath id="fc905"><circle cx="905.5" cy="570.6" r="7.6"/></clipPath>
<g clip-path="url(#fc905)">
<rect x="897.5" y="562.6" width="16" height="16" fill="#fff"/>
<rect x="897.5" y="563.9" width="16" height="1.9" fill="#EE4B4B"/>
<rect x="897.5" y="569.2" width="16" height="2.7" fill="#EE4B4B"/>
<rect x="897.5" y="575.0" width="16" height="2.5" fill="#EE4B4B"/>
<rect x="897.5" y="562.6" width="9.3" height="9.8" fill="#3A8EE6"/>
<circle cx="900.50" cy="566.00" r="0.35" fill="#fff"/><circle cx="900.50" cy="568.20" r="0.35" fill="#fff"/><circle cx="900.50" cy="570.40" r="0.35" fill="#fff"/><circle cx="902.70" cy="566.00" r="0.35" fill="#fff"/><circle cx="902.70" cy="568.20" r="0.35" fill="#fff"/><circle cx="902.70" cy="570.40" r="0.35" fill="#fff"/><circle cx="904.90" cy="566.00" r="0.35" fill="#fff"/><circle cx="904.90" cy="568.20" r="0.35" fill="#fff"/><circle cx="904.90" cy="570.40" r="0.35" fill="#fff"/>
</g></g>
<g>
<circle cx="938.9" cy="570.6" r="9.5" fill="#fff" stroke="#F23645" stroke-width="1.5"/>
<clipPath id="fc938"><circle cx="938.9" cy="570.6" r="7.6"/></clipPath>
<g clip-path="url(#fc938)">
<rect x="930.9" y="562.6" width="16" height="16" fill="#fff"/>
<rect x="930.9" y="563.9" width="16" height="1.9" fill="#EE4B4B"/>
<rect x="930.9" y="569.2" width="16" height="2.7" fill="#EE4B4B"/>
<rect x="930.9" y="575.0" width="16" height="2.5" fill="#EE4B4B"/>
<rect x="930.9" y="562.6" width="9.3" height="9.8" fill="#3A8EE6"/>
<circle cx="933.90" cy="566.00" r="0.35" fill="#fff"/><circle cx="933.90" cy="568.20" r="0.35" fill="#fff"/><circle cx="933.90" cy="570.40" r="0.35" fill="#fff"/><circle cx="936.10" cy="566.00" r="0.35" fill="#fff"/><circle cx="936.10" cy="568.20" r="0.35" fill="#fff"/><circle cx="936.10" cy="570.40" r="0.35" fill="#fff"/><circle cx="938.30" cy="566.00" r="0.35" fill="#fff"/><circle cx="938.30" cy="568.20" r="0.35" fill="#fff"/><circle cx="938.30" cy="570.40" r="0.35" fill="#fff"/>
</g></g>
<g fill="#131313">
<path d="M11.5 629.4 H22.8 V643.4 H17.3 V634.8 H11.5 Z"/>
<circle cx="27.3" cy="632.3" r="2.5"/>
<path d="M31.8 629.4 H39.2 L33.9 643.4 H27.9 Z"/>
</g>
<text x="46.2" y="643.4" font-size="20" font-weight="bold" fill="#131313" textLength="112.8" lengthAdjust="spacingAndGlyphs">TradingView</text>
</svg></body></html>
